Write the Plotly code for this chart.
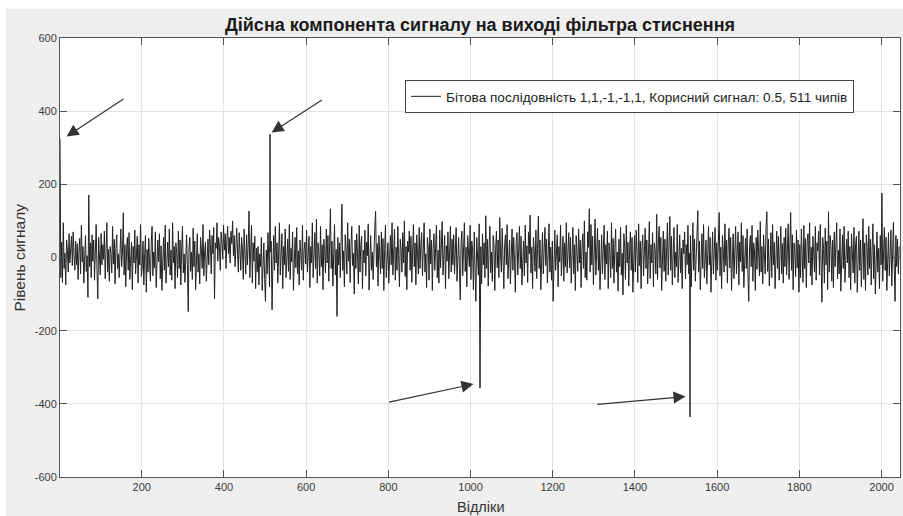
import plotly.graph_objects as go

# ---------------- data ----------------
title_text = "Дійсна компонента сигналу на виході фільтра стиснення"
x_label = "Відліки"
y_label = "Рівень сигналу"
legend_label = "Бітова послідовність 1,1,-1,-1,1, Корисний сигнал: 0.5, 511 чипів"

x_ticks = [200, 400, 600, 800, 1000, 1200, 1400, 1600, 1800, 2000]
x_tick_labels = ["200", "400", "600", "800", "1000", "1200", "1400", "1600", "1800", "2000"]
y_ticks = [-600, -400, -200, 0, 200, 400, 600]
y_tick_labels = ["-600", "-400", "-200", "0", "200", "400", "600"]

# correlation peaks (bit sequence 1,1,-1,-1)
spike_positions = [1, 512, 1023, 1534]
spike_levels = [325, 337, -357, -436]

# noise floor read every second sample (1, 3, 5, ...)
noise_levels = [
    0, -55, 42, -68, 95, -30, 12, -75, 48, 20, -40, 65, -15, 35, 58, -22, 70, 10, -35, 45,
    -20, 38, -60, 15, 52, -45, 88, -12, 30, -70, 25, 60, -38, 5, -109, 171, -25, 40, -55, 62,
    -10, 48, -62, 28, 90, -35, -113, 55, 12, -48, 66, -20, 35, -5, 72, -58, 18, 95, -40, 22,
    -65, 30, 8, -42, 85, -18, 50, -72, 25, 62, -30, 10, -55, 40, 78, -25, 15, 122, -48, 35,
    -80, 20, 55, -35, 68, -60, 12, 42, -88, 30, -15, 75, -45, 5, 58, -70, 35, -20, 90, -52,
    -30, 45, -75, 10, 60, -95, 22, -40, 52, -18, -65, 38, 85, -50, 15, -28, 70, -82, 25, 48,
    -12, 65, -58, 32, -90, 18, 55, -35, 88, -70, 5, 42, -25, 78, -48, 20, -62, 95, -15, 30,
    -85, 40, 12, -55, 72, -30, 48, -75, 20, 85, -42, 10, -68, 38, 62, -20, -148, 30, 55, -38,
    15, -60, 80, -25, 45, -88, 32, 65, -40, 10, -72, 55, 22, -30, 90, -50, 18, 42, -65, 28,
    50, -20, 75, 35, -45, 60, 10, 82, -113, 40, 25, 95, -10, 55, 30, -35, 70, 45, -5, 88,
    20, 65, -30, 48, 85, 10, 55, -15, 72, 38, 100, 5, 60, -25, 45, 80, 15, -40, 68, 30,
    -35, 55, 20, -60, 78, 10, -45, 62, -20, 35, 127, -55, 15, 88, -70, 40, -10, 58, -85, 25,
    -40, 30, -75, 10, -25, 55, -90, -5, 40, -60, -120, 20, -45, 68, -30, -80, 15, 45, -143, -20,
    60, -35, 85, -15, 40, -70, 22, 95, -48, 10, 65, -85, 30, -20, 78, -55, 12, 50, -38, 90,
    -60, 25, -12, 70, -90, 35, 55, -28, 82, -45, 18, -75, 48, 5, -35, 88, -62, 20, 42, -18,
    75, -40, 10, 58, -82, 30, -15, 95, -55, 25, 68, -30, 105, -70, 40, 12, -50, 85, -25, 35,
    -88, 50, 20, -42, 78, -15, 60, -65, 28, 133, -30, 45, -78, 15, 90, -48, 22, -161, 55, -20,
    40, -55, 72, 146, -35, 18, -80, 62, 25, -45, 95, -10, 50, -68, 30, 85, -22, 12, -100, 48,
    -30, 65, 10, -72, 88, -40, 35, 58, -85, 20, -15, 75, -50, 42, 5, 92, -89, 28, 60, -35,
    15, -60, 45, 82, 127, -25, 38, -78, 60, 10, -45, 70, -30, 52, -90, 25, 88, -55, 18, 40,
    -70, 35, 60, -20, 95, -48, 12, 78, -62, 28, -35, 85, 5, -80, 50, 22, -40, 68, -15, 100,
    -52, 30, -88, 45, 15, 72, -35, 58, -68, 20, 90, -25, 40, -75, 62, 10, -45, 82, -30, 35,
    68, -50, 22, 95, -40, 10, -82, 55, 30, -62, 78, -18, 48, -90, 25, 65, -35, 12, 88, -55,
    20, -70, 75, -28, 42, 98, -48, 15, 60, -85, 32, -10, 70, -58, 25, 85, -40, 50, -20, 62,
    -45, 30, 82, -65, 18, 55, -30, -116, 40, 72, -50, 12, 95, -38, 28, -80, 60, 15, -25, 88,
    -60, 45, 20, -88, 70, -35, -120, 55, 10, -48, 92, 0, 30, -72, 65, -20, 40, -55, 114, -30,
    50, -78, 25, 85, -42, 15, -65, 60, 38, -90, 22, 72, -28, 48, -55, 109, 10, -40, 80, -18,
    -85, 35, 62, -20, 90, -58, 25, 48, -72, 15, 78, -35, 55, -10, -95, 40, 68, -48, 20, 85,
    -30, 58, -75, 22, 45, -50, 88, -15, 32, -68, 70, 10, 116, -42, 28, -85, 55, 18, -38, 75,
    -58, 25, 113, -30, 48, -88, 12, 68, -45, 35, 82, -22, 50, -70, 15, 92, -40, 28, -62, 45,
    -120, 40, 75, -35, 18, 62, -80, 30, -12, 88, -50, 22, 58, -65, 40, -25, 95, -42, 10, 68,
    -28, 55, -70, 20, 82, -45, 35, -90, 60, 12, -38, 78, -15, 48, -82, 25, 65, -30, 100, -55,
    15, -62, 70, 28, 133, -40, 90, -20, 58, -75, 35, 105, -48, 22, 80, -35, 48, -88, 30, 62,
    -45, 20, 88, -60, 35, -18, 72, -85, 40, 10, -55, 95, -30, 52, -70, 25, 78, -40, 15, -92,
    50, -25, 82, -48, 12, -102, 65, 30, -60, 88, -15, 42, -78, 20, 70, -35, 55, -95, 28, 60,
    -40, 75, 15, -68, 92, -22, 45, -85, 30, 62, -50, 18, 80, -30, 48, -72, 25, 98, -58, 35,
    -15, 68, -80, 40, 22, -45, 118, -60, 35, 85, -28, 55, -90, 12, 72, -38, 50, -65, 28, 95,
    -48, 20, 112, -35, 58, -75, 30, 82, -55, 15, -25, 90, -68, 40, 62, -42, 25, -85, 48, 10,
    70, -58, 35, -20, 88, -45, 12, 60, -80, 28, 95, -35, 50, -65, 20, 78, 128, -40, 45, -88,
    25, 65, -30, 90, -55, 18, 48, -72, 38, 85, -20, 55, -95, 30, 70, -45, 15, 82, -62, 40,
    -35, 72, 123, -50, 28, -85, 60, 15, -40, 92, -22, 48, -70, 35, 80, -28, 55, -90, 20, 65,
    -58, 30, 85, -45, 18, 70, -75, 42, -12, 95, -38, 60, -82, 25, 52, -30, 78, -48, -120, 35,
    60, -25, 88, -65, 40, 15, -90, 55, -32, 75, 20, -50, 98, -40, 30, -72, 62, 10, -45, 82,
    125, -38, 50, -78, 28, 68, -55, 90, -20, 42, -85, 35, 72, -30, 58, -62, 20, 85, -45, 38,
    -70, 55, -25, 80, -48, 30, 92, -60, 15, 123, -35, 62, -88, 40, 20, -52, 75, -28, 48, -95,
    35, -55, 78, 20, -68, 88, -30, 52, -82, 40, 65, -15, 95, -50, 28, -75, 58, 12, -40, 85,
    -62, 40, 18, 72, -48, 90, -35, -122, 55, 25, -70, 80, -20, 45, -88, 125, -40, 60, 30, -65,
    48, -82, 70, -25, 35, 95, -58, 20, -45, 78, -92, 40, 62, -30, 85, -68, 28, 50, -15, 72,
    -55, 30, -88, 65, 15, -42, 82, -70, 38, 58, -95, 25, 72, -35, 48, -80, 20, 106, -60, 40,
    -90, 62, 28, -48, 85, -30, 50, -75, 18, 92, -58, 35, -100, 45, 70, -40, 25, -85, 60, -20,
    176, -65, 40, 82, -35, 55, -90, 30, 68, -50, 18, 75, -78, 45, 96, -30, -120, 60, -25, 50,
    -45, 30,
]
noise_positions = list(range(1, 1 + 2 * len(noise_levels), 2))

# ---------------- build series ----------------
level_by_pos = dict(zip(noise_positions, noise_levels))
level_by_pos.update(zip(spike_positions, spike_levels))
sample_positions = sorted(level_by_pos)
sample_levels = [level_by_pos[p] for p in sample_positions]

FONT = "Liberation Sans, Arial, Helvetica, sans-serif"
# the page's body margin is set to (9px top, 6px left), which reproduces the
# thin white border of the original image; the figure fills the rest exactly
OFFX, OFFY = 6, 9
W, H = 903 - OFFX, 516 - OFFY
ML, MT = 60 - OFFX, 38 - OFFY
MR = W - (900 - OFFX)
MB = H - (477 - OFFY)
PW, PH = W - ML - MR, H - MT - MB

fig = go.Figure()
fig.add_trace(go.Scatter(
    x=sample_positions, y=sample_levels, mode="lines",
    line=dict(color="#222222", width=1),
    name=legend_label, showlegend=True,
))

axis_common = dict(
    showline=True, linecolor="#555555", linewidth=1, mirror="ticks",
    ticks="inside", ticklen=7, tickcolor="#555555", tickwidth=1,
    showgrid=True, gridcolor="#e3e3e3", gridwidth=1, zeroline=False,
    tickfont=dict(family=FONT, size=11, color="#3a3a3a"),
)

fig.update_layout(
    width=W, height=H,
    margin=dict(l=ML, r=MR, t=MT, b=MB),
    paper_bgcolor="#efefef", plot_bgcolor="white",
    font=dict(family=FONT, color="#222222"),
    title=dict(text="<b>" + title_text + "</b>", x=0.5, xref="paper", xanchor="center",
               y=1 - (25 - OFFY) / H, yref="container", yanchor="middle",
               font=dict(family=FONT, size=18, color="#1a1a1a")),
    xaxis=dict(range=[1, 2045], tickvals=x_ticks, ticktext=x_tick_labels, **axis_common),
    yaxis=dict(range=[-600, 600], tickvals=y_ticks, ticktext=y_tick_labels, **axis_common),
    showlegend=True,
    legend=dict(x=(405 - 60) / PW, y=1 - (80 - 38) / PH, xanchor="left", yanchor="top",
                bgcolor="white", bordercolor="#444444", borderwidth=1,
                font=dict(family=FONT, size=13.6, color="#222222"),
                tracegroupgap=0, itemwidth=30),
)

annotations = [
    dict(text=y_label, x=(19 - 60) / PW, y=0.5, xref="paper", yref="paper",
         textangle=-90, showarrow=False, xanchor="center", yanchor="middle",
         font=dict(family=FONT, size=15.5, color="#333333")),
    dict(text=x_label, x=0.5, y=-(506.5 - 477) / PH, xref="paper", yref="paper",
         showarrow=False, xanchor="center", yanchor="middle",
         font=dict(family=FONT, size=14.5, color="#333333")),
]
arrow_specs = [
    # (head x, head y, tail x, tail y)
    (17, 331, 159, 436),
    (516, 342, 642, 433),
    (1007, -346, 798, -396),
    (1523, -380, 1305, -402),
]
for hx, hy, tx, ty in arrow_specs:
    annotations.append(dict(
        x=hx, y=hy, ax=tx, ay=ty, xref="x", yref="y", axref="x", ayref="y",
        text="", showarrow=True, arrowhead=2, arrowsize=2.0, arrowwidth=1.2,
        arrowcolor="#333333", standoff=0, startstandoff=0,
    ))
fig.update_layout(annotations=annotations)

page_fix = (
    "document.body.style.margin='%dpx 0 0 %dpx';"
    "document.body.style.padding='0';"
    "document.documentElement.style.overflow='hidden';"
    "document.body.style.overflow='hidden';" % (OFFY, OFFX)
)
fig.write_html("out.html", post_script=page_fix)
